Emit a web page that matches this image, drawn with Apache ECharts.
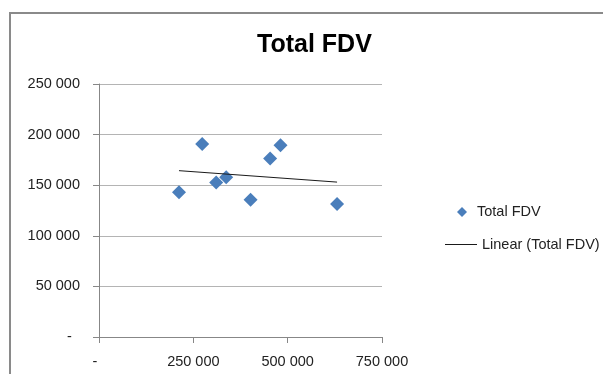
<!DOCTYPE html>
<html>
<head>
<meta charset="utf-8">
<style>
  html, body { margin: 0; padding: 0; background: #fff; }
  #chart { width: 603px; height: 374px; }
</style>
<script src="https://cdn.jsdelivr.net/npm/echarts@6/dist/echarts.min.js"></script>
</head>
<body>
<div id="chart"></div>
<script>
// Total FDV observations (x, y)
const fdvX = [212000, 273500, 310500, 337000, 401600, 453500, 481000, 630900];
const fdvY = [143100, 190800, 152600, 157900, 135500, 176300, 189500, 131300];

const seriesName = 'Total FDV';
const trendName = 'Linear (Total FDV)';

const xTicks = { min: 0, max: 750000, interval: 250000 };
const yTicks = { min: 0, max: 250000, interval: 50000 };

// Least-squares linear trend over the observed x range
function linearTrend(xs, ys) {
  const n = xs.length;
  const mx = xs.reduce((a, b) => a + b, 0) / n;
  const my = ys.reduce((a, b) => a + b, 0) / n;
  let sxy = 0, sxx = 0;
  for (let i = 0; i < n; i++) {
    sxy += (xs[i] - mx) * (ys[i] - my);
    sxx += (xs[i] - mx) * (xs[i] - mx);
  }
  const slope = sxy / sxx;
  const icpt = my - slope * mx;
  const x0 = Math.min(...xs), x1 = Math.max(...xs);
  return [[x0, icpt + slope * x0], [x1, icpt + slope * x1]];
}

function fmt(v) {
  return String(v).replace(/\B(?=(\d{3})+(?!\d))/g, ' ');
}

const FONT = '"Liberation Sans", Arial, sans-serif';
const legendText = { fontFamily: FONT, fontSize: 14.5, color: '#222', lineHeight: 16 };
const chart = echarts.init(document.getElementById('chart'), null, { renderer: 'canvas' });

chart.setOption({
  backgroundColor: '#fff',
  animation: false,
  graphic: [{
    type: 'rect',
    shape: { x: 10, y: 13, width: 700, height: 500 },
    style: { fill: 'none', stroke: '#8a8a8a', lineWidth: 2 },
    silent: true
  }],
  title: {
    text: 'Total FDV',
    left: 252,
    top: 28,
    textStyle: { fontFamily: FONT, fontWeight: 'bold', fontSize: 25, color: '#000' }
  },
  legend: [
    {
      orient: 'vertical',
      left: 452,
      top: 199,
      itemWidth: 10,
      itemHeight: 10,
      textStyle: Object.assign({ padding: [0, 0, 0, 5] }, legendText),
      data: [{ name: seriesName, icon: 'diamond' }]
    },
    {
      orient: 'vertical',
      left: 440,
      top: 231.5,
      itemWidth: 32,
      itemHeight: 1,
      textStyle: legendText,
      data: [{ name: trendName, icon: 'rect' }]
    }
  ],
  grid: { left: 99, top: 84, right: 221, bottom: 37, containLabel: false },
  xAxis: {
    type: 'value',
    min: xTicks.min, max: xTicks.max, interval: xTicks.interval,
    axisLine: { show: true, lineStyle: { color: '#878787', width: 1 } },
    axisTick: { show: true, inside: false, length: 6, lineStyle: { color: '#878787' } },
    splitLine: { show: false },
    axisLabel: {
      margin: 17,
      fontFamily: FONT, fontSize: 14.5, color: '#222',
      formatter: v => v === 0 ? '-  ' : fmt(v)
    }
  },
  yAxis: {
    type: 'value',
    min: yTicks.min, max: yTicks.max, interval: yTicks.interval,
    axisLine: { show: true, lineStyle: { color: '#878787', width: 1 } },
    axisTick: { show: true, inside: false, length: 6, lineStyle: { color: '#878787' } },
    splitLine: { show: true, lineStyle: { color: '#b4b4b4', width: 1 } },
    axisLabel: {
      margin: 19,
      fontFamily: FONT, fontSize: 14.5, color: '#222',
      formatter: v => v === 0 ? '-  ' : fmt(v)
    }
  },
  series: [
    {
      name: seriesName,
      type: 'scatter',
      symbol: 'diamond',
      symbolSize: 14,
      itemStyle: { color: '#4a7ebb', opacity: 1 },
      data: fdvX.map((x, i) => [x, fdvY[i]]),
      z: 3
    },
    {
      name: trendName,
      type: 'line',
      symbol: 'none',
      lineStyle: { color: '#1a1a1a', width: 1 },
      itemStyle: { color: '#1a1a1a' },
      data: linearTrend(fdvX, fdvY),
      z: 4
    }
  ]
});
</script>
</body>
</html>
